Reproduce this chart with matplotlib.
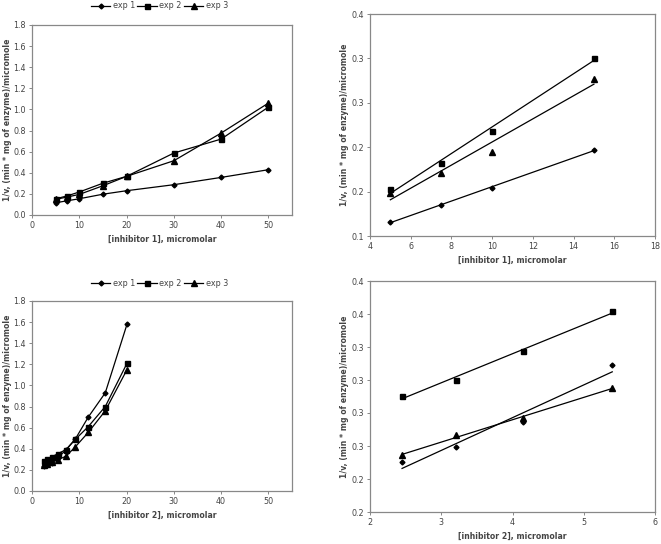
import numpy as np
import matplotlib
matplotlib.use("Agg")
import matplotlib.pyplot as plt

# ---- data ----
inh1_x = [5, 7.5, 10, 15, 20, 30, 40, 50]
inh1_exp1 = [0.116, 0.135, 0.154, 0.197, 0.230, 0.287, 0.356, 0.429]
inh1_exp2 = [0.153, 0.182, 0.218, 0.301, 0.366, 0.587, 0.719, 1.022]
inh1_exp3 = [0.148, 0.171, 0.195, 0.277, 0.366, 0.514, 0.776, 1.060]

inh2_x = [2.45, 3.2, 4.15, 5.4, 7.2, 9.2, 11.9, 15.5, 20.1]
inh2_exp1 = [0.238, 0.249, 0.268, 0.311, 0.390, 0.495, 0.700, 0.930, 1.580]
inh2_exp2 = [0.288, 0.300, 0.322, 0.352, 0.392, 0.490, 0.610, 0.800, 1.210]
inh2_exp3 = [0.243, 0.258, 0.271, 0.294, 0.330, 0.420, 0.555, 0.760, 1.150]

# low-concentration points used for the linear fits (right panels)
n_fit1 = 4
n_fit2 = 4

labels = ["exp 1", "exp 2", "exp 3"]
markers = ["D", "s", "^"]
msizes = [2.5, 3.6, 3.8]

# tick labels exactly as printed (Excel one-decimal rounding)
tr_yticks = [0.10, 0.15, 0.20, 0.25, 0.30, 0.35]
tr_ylabels = ["0.1", "0.2", "0.2", "0.3", "0.3", "0.4"]
br_yticks = [0.200, 0.225, 0.250, 0.275, 0.300, 0.325, 0.350, 0.375]
br_ylabels = ["0.2", "0.2", "0.3", "0.3", "0.3", "0.3", "0.4", "0.4"]

ylab = "1/v, (min * mg of enzyme)/micromole"
fs_tick = 5.8
fs_lab = 5.6
grey = "#888888"
txt = "#444444"

fig = plt.figure(figsize=(6.61, 5.44), dpi=100)
W, H = 661, 544


def box(l, t, r, b):
    return [l / W, 1 - b / H, (r - l) / W, (b - t) / H]


def style(ax):
    for s in ax.spines.values():
        s.set_color(grey)
        s.set_linewidth(0.9)
    ax.tick_params(direction="out", length=2.5, width=0.7, colors=grey,
                   labelcolor=txt, labelsize=fs_tick, pad=2)


def left_panel(ax, x, ys, xlabel, legend_y):
    for y, lab, m, ms in zip(ys, labels, markers, msizes):
        ax.plot(x, y, color="black", lw=0.9, marker=m, ms=ms, label=lab)
    ax.set_xlim(0, 55)
    ax.set_ylim(0, 1.8)
    ax.set_xticks([0, 10, 20, 30, 40, 50])
    ax.set_yticks(np.arange(0, 1.81, 0.2))
    ax.yaxis.set_major_formatter(plt.FormatStrFormatter("%.1f"))
    ax.set_xlabel(xlabel, fontsize=fs_lab, fontweight="bold", color=txt, labelpad=3)
    ax.set_ylabel(ylab, fontsize=fs_lab, fontweight="bold", color=txt, labelpad=1)
    ax.legend(loc="center", bbox_to_anchor=(0.49, legend_y), ncol=3,
              frameon=False, fontsize=fs_tick, handlelength=2.4, columnspacing=0.3,
              handletextpad=0.3, labelcolor=txt)
    style(ax)


def right_panel(ax, x, ys, n, xlim, xticks, yticks, ylabels, xlabel):
    xs = np.array(x[:n])
    for y, m, ms in zip(ys, markers, msizes):
        yy = np.array(y[:n])
        ax.plot(xs, yy, ls="none", marker=m, ms=ms, color="black")
        k, c = np.polyfit(xs, yy, 1)
        ax.plot([xs.min(), xs.max()], [k * xs.min() + c, k * xs.max() + c],
                color="black", lw=0.9)
    ax.set_xlim(*xlim)
    ax.set_xticks(xticks)
    ax.set_ylim(yticks[0], yticks[-1])
    ax.set_yticks(yticks)
    ax.set_yticklabels(ylabels)
    ax.set_xlabel(xlabel, fontsize=fs_lab, fontweight="bold", color=txt, labelpad=3)
    ax.set_ylabel(ylab, fontsize=fs_lab, fontweight="bold", color=txt, labelpad=1.5)
    style(ax)


ax1 = fig.add_axes(box(32, 25, 292, 215))
left_panel(ax1, inh1_x, [inh1_exp1, inh1_exp2, inh1_exp3],
           "[inhibitor 1], micromolar", 1.1)

ax2 = fig.add_axes(box(370, 14, 655, 236))
right_panel(ax2, inh1_x, [inh1_exp1, inh1_exp2, inh1_exp3], n_fit1,
            (4, 18), [4, 6, 8, 10, 12, 14, 16, 18], tr_yticks, tr_ylabels,
            "[inhibitor 1], micromolar")

ax3 = fig.add_axes(box(32, 301, 292, 491))
left_panel(ax3, inh2_x, [inh2_exp1, inh2_exp2, inh2_exp3],
           "[inhibitor 2], micromolar", 1.093)

ax4 = fig.add_axes(box(370, 281, 655, 512))
right_panel(ax4, inh2_x, [inh2_exp1, inh2_exp2, inh2_exp3], n_fit2,
            (2, 6), [2, 3, 4, 5, 6], br_yticks, br_ylabels,
            "[inhibitor 2], micromolar")

fig.savefig("out.png", dpi=100)
